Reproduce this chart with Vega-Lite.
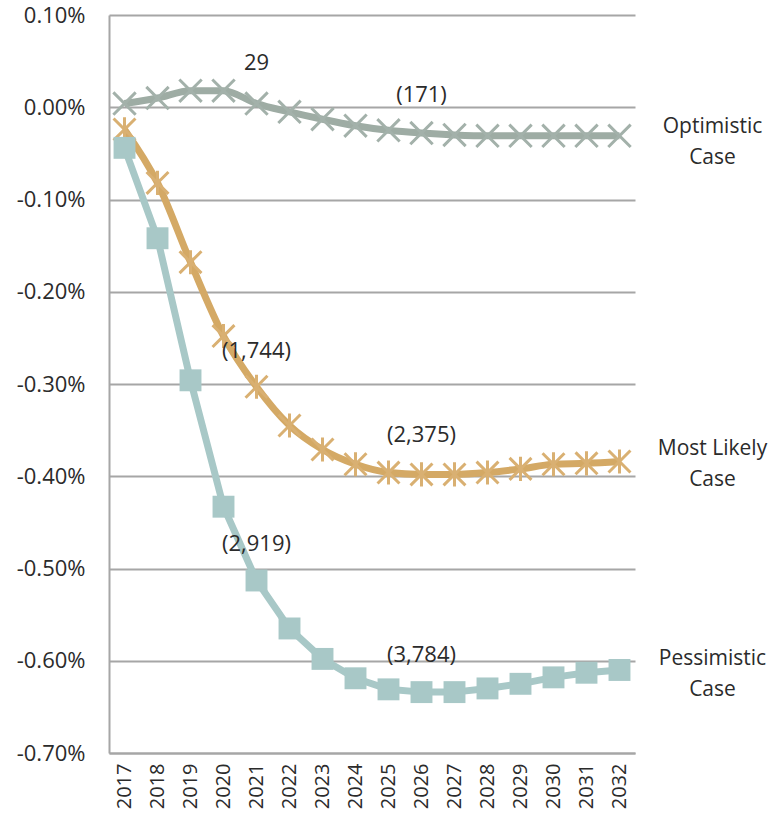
{
  "$schema": "https://vega.github.io/schema/vega-lite/v6.json",
  "width": 526,
  "height": 738,
  "autosize": "none",
  "padding": {"left": 109, "top": 15, "right": 143, "bottom": 73},
  "config": {"view": {"stroke": null}, "font": "Open Sans"},
  "datasets": {
    "series": [
      {"year": "2017", "series": "Optimistic", "value": 0.004},
      {"year": "2018", "series": "Optimistic", "value": 0.010},
      {"year": "2019", "series": "Optimistic", "value": 0.018},
      {"year": "2020", "series": "Optimistic", "value": 0.018},
      {"year": "2021", "series": "Optimistic", "value": 0.004},
      {"year": "2022", "series": "Optimistic", "value": -0.005},
      {"year": "2023", "series": "Optimistic", "value": -0.013},
      {"year": "2024", "series": "Optimistic", "value": -0.020},
      {"year": "2025", "series": "Optimistic", "value": -0.025},
      {"year": "2026", "series": "Optimistic", "value": -0.028},
      {"year": "2027", "series": "Optimistic", "value": -0.030},
      {"year": "2028", "series": "Optimistic", "value": -0.031},
      {"year": "2029", "series": "Optimistic", "value": -0.031},
      {"year": "2030", "series": "Optimistic", "value": -0.031},
      {"year": "2031", "series": "Optimistic", "value": -0.031},
      {"year": "2032", "series": "Optimistic", "value": -0.031},
      {"year": "2017", "series": "Most Likely", "value": -0.024},
      {"year": "2018", "series": "Most Likely", "value": -0.082},
      {"year": "2019", "series": "Most Likely", "value": -0.168},
      {"year": "2020", "series": "Most Likely", "value": -0.248},
      {"year": "2021", "series": "Most Likely", "value": -0.303},
      {"year": "2022", "series": "Most Likely", "value": -0.345},
      {"year": "2023", "series": "Most Likely", "value": -0.371},
      {"year": "2024", "series": "Most Likely", "value": -0.387},
      {"year": "2025", "series": "Most Likely", "value": -0.396},
      {"year": "2026", "series": "Most Likely", "value": -0.398},
      {"year": "2027", "series": "Most Likely", "value": -0.398},
      {"year": "2028", "series": "Most Likely", "value": -0.396},
      {"year": "2029", "series": "Most Likely", "value": -0.392},
      {"year": "2030", "series": "Most Likely", "value": -0.387},
      {"year": "2031", "series": "Most Likely", "value": -0.386},
      {"year": "2032", "series": "Most Likely", "value": -0.384},
      {"year": "2017", "series": "Pessimistic", "value": -0.044},
      {"year": "2018", "series": "Pessimistic", "value": -0.142},
      {"year": "2019", "series": "Pessimistic", "value": -0.296},
      {"year": "2020", "series": "Pessimistic", "value": -0.433},
      {"year": "2021", "series": "Pessimistic", "value": -0.513},
      {"year": "2022", "series": "Pessimistic", "value": -0.565},
      {"year": "2023", "series": "Pessimistic", "value": -0.598},
      {"year": "2024", "series": "Pessimistic", "value": -0.619},
      {"year": "2025", "series": "Pessimistic", "value": -0.631},
      {"year": "2026", "series": "Pessimistic", "value": -0.634},
      {"year": "2027", "series": "Pessimistic", "value": -0.634},
      {"year": "2028", "series": "Pessimistic", "value": -0.630},
      {"year": "2029", "series": "Pessimistic", "value": -0.625},
      {"year": "2030", "series": "Pessimistic", "value": -0.618},
      {"year": "2031", "series": "Pessimistic", "value": -0.613},
      {"year": "2032", "series": "Pessimistic", "value": -0.610}
    ],
    "ann": [
      {"year": "2021", "value": 0.048, "label": "29"},
      {"year": "2026", "value": 0.0136, "label": "(171)"},
      {"year": "2021", "value": -0.264, "label": "(1,744)"},
      {"year": "2026", "value": -0.355, "label": "(2,375)"},
      {"year": "2021", "value": -0.473, "label": "(2,919)"},
      {"year": "2026", "value": -0.594, "label": "(3,784)"}
    ],
    "names": [
      {"year": "2032", "value": -0.021, "label": ["Optimistic", "Case"]},
      {"year": "2032", "value": -0.370, "label": ["Most Likely", "Case"]},
      {"year": "2032", "value": -0.598, "label": ["Pessimistic", "Case"]}
    ]
  },
  "encoding": {
    "x": {
      "field": "year", "type": "ordinal",
      "scale": {"type": "point", "padding": 0.47},
      "axis": {
        "title": null, "labelAngle": -90, "labelFontSize": 20, "labelColor": "#2b2b2b",
        "ticks": false, "grid": false, "domainColor": "#A6A6A6", "domainWidth": 2,
        "labelPadding": 10
      }
    },
    "y": {
      "field": "value", "type": "quantitative",
      "scale": {"domain": [-0.7, 0.1], "nice": false},
      "axis": {
        "title": null, "values": [-0.7, -0.6, -0.5, -0.4, -0.3, -0.2, -0.1, 0, 0.1],
        "labelExpr": "replace(format(datum.value, '.2f'), '\u2212', '-') + '%'",
        "labelFontSize": 22, "labelColor": "#2b2b2b", "labelPadding": 24,
        "ticks": false, "grid": true, "gridColor": "#A6A6A6", "gridWidth": 2,
        "domainColor": "#A6A6A6", "domainWidth": 2
      }
    }
  },
  "layer": [
    {
      "data": {"name": "series"},
      "transform": [{"filter": "datum.series != 'Pessimistic'"}],
      "mark": {"type": "line", "strokeWidth": 7, "interpolate": "monotone"},
      "encoding": {
        "color": {"field": "series", "type": "nominal", "legend": null,
          "scale": {"domain": ["Optimistic", "Most Likely", "Pessimistic"], "range": ["#9EACA4", "#D4A965", "#A8C8C7"]}}
      }
    },
    {
      "data": {"name": "series"},
      "transform": [{"filter": "datum.series == 'Pessimistic'"}],
      "mark": {"type": "line", "strokeWidth": 7, "color": "#A8C8C7"},
      "encoding": {}
    },
    {
      "data": {"name": "series"},
      "transform": [{"filter": "datum.series == 'Optimistic'"}],
      "mark": {"type": "point", "shape": "M-1,-1L1,1M-1,1L1,-1", "filled": false, "strokeWidth": 3, "size": 500, "color": "#A3B1AA", "opacity": 1},
      "encoding": {}
    },
    {
      "data": {"name": "series"},
      "transform": [{"filter": "datum.series == 'Most Likely'"}],
      "mark": {"type": "point", "shape": "M-1,-1L1,1M-1,1L1,-1M0,-1.1L0,1.1", "filled": false, "strokeWidth": 3, "size": 480, "color": "#D9B072", "opacity": 1},
      "encoding": {}
    },
    {
      "data": {"name": "series"},
      "transform": [{"filter": "datum.series == 'Pessimistic'"}],
      "mark": {"type": "square", "size": 480, "color": "#A8C8C7", "opacity": 1},
      "encoding": {}
    },
    {
      "data": {"name": "ann"},
      "mark": {"type": "text", "fontSize": 22, "color": "#2b2b2b", "align": "center", "baseline": "middle"},
      "encoding": {"text": {"field": "label"}}
    },
    {
      "data": {"name": "names"},
      "mark": {"type": "text", "fontSize": 21, "color": "#2b2b2b", "align": "center", "baseline": "middle", "dx": 93, "lineHeight": 31},
      "encoding": {"text": {"field": "label"}}
    }
  ]
}
